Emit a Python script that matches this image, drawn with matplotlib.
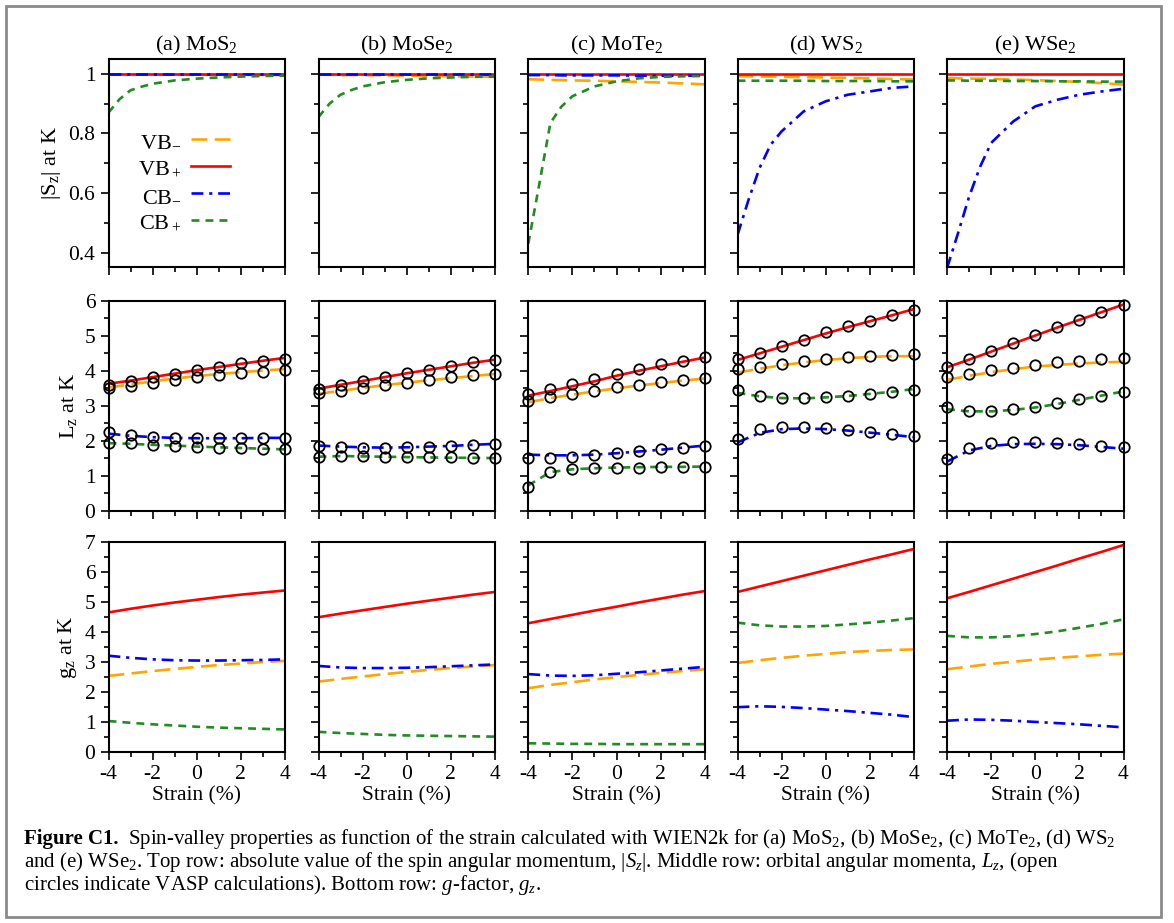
import matplotlib
matplotlib.use("Agg")
import matplotlib.pyplot as plt
from matplotlib.ticker import MultipleLocator
from matplotlib.patches import Rectangle

plt.rcParams.update({
    "font.family": ["Liberation Serif", "DejaVu Serif"],
    "mathtext.fontset": "custom",
    "mathtext.rm": "Liberation Serif",
    "mathtext.it": "Liberation Serif:italic",
    "mathtext.bf": "Liberation Serif:bold",
    "axes.unicode_minus": False,
    "axes.linewidth": 1.5,
    "xtick.direction": "out",
    "ytick.direction": "out",
})

# ---- data ----
strain = [-4, -3, -2, -1, 0, 1, 2, 3, 4]
strain_top = [-4, -3.5, -3, -2.5, -2, -1, 0, 1, 2, 3, 4]

materials = ["(a) MoS$_2$", "(b) MoSe$_2$", "(c) MoTe$_2$", "(d) WS$_2$", "(e) WSe$_2$"]
band_labels = ["VB$_\\mathrm{-}$", "VB$_+$", "CB$_\\mathrm{-}$", "CB$_+$"]

# |Sz| at K, order: VB-, VB+, CB-, CB+
sz_mos2 = [
    [0.998, 0.998, 0.998, 0.998, 0.998, 0.998, 0.997, 0.997, 0.997, 0.996, 0.996],
    [1.0, 1.0, 1.0, 1.0, 1.0, 1.0, 1.0, 1.0, 1.0, 1.0, 1.0],
    [0.999, 0.999, 0.999, 0.999, 0.999, 0.999, 0.999, 0.999, 0.999, 0.999, 0.999],
    [0.870, 0.915, 0.945, 0.957, 0.967, 0.978, 0.984, 0.988, 0.991, 0.993, 0.994],
]
sz_mose2 = [
    [0.997, 0.997, 0.996, 0.996, 0.996, 0.995, 0.994, 0.993, 0.992, 0.991, 0.990],
    [1.0, 1.0, 1.0, 1.0, 1.0, 1.0, 1.0, 1.0, 1.0, 1.0, 1.0],
    [0.999, 0.999, 0.999, 0.999, 0.999, 0.999, 0.999, 0.999, 0.999, 0.999, 0.999],
    [0.855, 0.900, 0.930, 0.946, 0.958, 0.972, 0.980, 0.985, 0.988, 0.990, 0.991],
]
sz_mote2 = [
    [0.982, 0.981, 0.980, 0.979, 0.978, 0.977, 0.975, 0.973, 0.971, 0.968, 0.965],
    [1.0, 1.0, 1.0, 1.0, 1.0, 1.0, 1.0, 1.0, 1.0, 1.0, 1.0],
    [0.996, 0.996, 0.996, 0.995, 0.995, 0.995, 0.995, 0.994, 0.994, 0.994, 0.994],
    [0.430, 0.630, 0.835, 0.890, 0.925, 0.958, 0.975, 0.985, 0.990, 0.992, 0.993],
]
sz_ws2 = [
    [0.992, 0.992, 0.991, 0.991, 0.990, 0.989, 0.988, 0.986, 0.985, 0.983, 0.981],
    [1.0, 1.0, 1.0, 1.0, 1.0, 1.0, 1.0, 1.0, 1.0, 1.0, 1.0],
    [0.459, 0.577, 0.684, 0.762, 0.807, 0.874, 0.908, 0.930, 0.941, 0.953, 0.958],
    [0.977, 0.977, 0.977, 0.977, 0.977, 0.977, 0.976, 0.976, 0.976, 0.975, 0.975],
]
sz_wse2 = [
    [0.986, 0.985, 0.984, 0.984, 0.983, 0.981, 0.979, 0.976, 0.973, 0.969, 0.964],
    [1.0, 1.0, 1.0, 1.0, 1.0, 1.0, 1.0, 1.0, 1.0, 1.0, 1.0],
    [0.347, 0.465, 0.587, 0.688, 0.768, 0.840, 0.891, 0.913, 0.930, 0.941, 0.950],
    [0.978, 0.978, 0.977, 0.977, 0.977, 0.976, 0.976, 0.975, 0.975, 0.974, 0.974],
]

# Lz at K (WIEN2k lines)
lz_mos2 = [
    [3.52, 3.61, 3.70, 3.78, 3.85, 3.91, 3.96, 4.01, 4.05],
    [3.63, 3.72, 3.82, 3.92, 4.02, 4.11, 4.20, 4.29, 4.37],
    [2.20, 2.14, 2.10, 2.08, 2.07, 2.07, 2.07, 2.08, 2.08],
    [1.93, 1.91, 1.88, 1.86, 1.83, 1.81, 1.79, 1.77, 1.75],
]
lz_mose2 = [
    [3.34, 3.43, 3.51, 3.59, 3.66, 3.73, 3.79, 3.85, 3.91],
    [3.49, 3.60, 3.71, 3.82, 3.93, 4.03, 4.13, 4.23, 4.32],
    [1.86, 1.83, 1.81, 1.80, 1.81, 1.83, 1.85, 1.88, 1.91],
    [1.54, 1.56, 1.55, 1.54, 1.53, 1.52, 1.51, 1.51, 1.50],
]
lz_mote2 = [
    [3.10, 3.22, 3.32, 3.41, 3.50, 3.58, 3.65, 3.72, 3.78],
    [3.29, 3.42, 3.56, 3.70, 3.86, 4.00, 4.13, 4.26, 4.38],
    [1.60, 1.58, 1.58, 1.60, 1.64, 1.69, 1.74, 1.80, 1.86],
    [0.72, 1.10, 1.18, 1.21, 1.23, 1.24, 1.25, 1.25, 1.26],
]
lz_ws2 = [
    [3.95, 4.06, 4.16, 4.24, 4.31, 4.36, 4.40, 4.42, 4.42],
    [4.31, 4.50, 4.69, 4.88, 5.07, 5.25, 5.42, 5.59, 5.77],
    [1.95, 2.22, 2.33, 2.35, 2.33, 2.29, 2.23, 2.17, 2.10],
    [3.37, 3.27, 3.22, 3.21, 3.24, 3.28, 3.34, 3.40, 3.48],
]
lz_wse2 = [
    [3.74, 3.86, 3.96, 4.05, 4.12, 4.17, 4.21, 4.24, 4.26],
    [4.10, 4.32, 4.55, 4.78, 5.01, 5.24, 5.46, 5.68, 5.90],
    [1.40, 1.72, 1.85, 1.90, 1.91, 1.90, 1.87, 1.82, 1.77],
    [2.90, 2.84, 2.84, 2.88, 2.95, 3.05, 3.17, 3.29, 3.41],
]

# Lz at K (VASP, open circles)
vasp_mos2 = [
    [3.51, 3.57, 3.66, 3.74, 3.81, 3.88, 3.93, 3.98, 4.03],
    [3.58, 3.71, 3.82, 3.92, 4.03, 4.12, 4.22, 4.27, 4.34],
    [2.24, 2.16, 2.11, 2.09, 2.07, 2.07, 2.07, 2.08, 2.09],
    [1.92, 1.93, 1.89, 1.85, 1.83, 1.80, 1.78, 1.76, 1.75],
]
vasp_mose2 = [
    [3.36, 3.42, 3.50, 3.58, 3.66, 3.74, 3.81, 3.87, 3.91],
    [3.47, 3.59, 3.71, 3.82, 3.93, 4.03, 4.14, 4.24, 4.31],
    [1.86, 1.83, 1.80, 1.80, 1.81, 1.83, 1.86, 1.88, 1.91],
    [1.53, 1.57, 1.56, 1.54, 1.53, 1.52, 1.52, 1.50, 1.50],
]
vasp_mote2 = [
    [3.15, 3.24, 3.33, 3.42, 3.53, 3.60, 3.67, 3.74, 3.79],
    [3.33, 3.48, 3.62, 3.76, 3.90, 4.05, 4.19, 4.29, 4.39],
    [1.50, 1.50, 1.54, 1.59, 1.64, 1.69, 1.75, 1.80, 1.86],
    [0.68, 1.09, 1.18, 1.21, 1.23, 1.23, 1.26, 1.26, 1.26],
]
vasp_ws2 = [
    [4.05, 4.12, 4.20, 4.28, 4.34, 4.39, 4.43, 4.46, 4.48],
    [4.35, 4.52, 4.71, 4.89, 5.10, 5.27, 5.44, 5.60, 5.75],
    [2.05, 2.33, 2.40, 2.40, 2.37, 2.31, 2.26, 2.20, 2.13],
    [3.45, 3.28, 3.22, 3.22, 3.24, 3.28, 3.35, 3.40, 3.45],
]
vasp_wse2 = [
    [3.82, 3.90, 4.01, 4.09, 4.16, 4.24, 4.29, 4.33, 4.36],
    [4.12, 4.34, 4.57, 4.81, 5.03, 5.25, 5.47, 5.68, 5.89],
    [1.48, 1.80, 1.93, 1.95, 1.95, 1.93, 1.90, 1.86, 1.81],
    [2.95, 2.86, 2.85, 2.90, 2.97, 3.07, 3.19, 3.28, 3.40],
]

# gz at K
gz_mos2 = [
    [2.54, 2.62, 2.70, 2.77, 2.84, 2.90, 2.95, 3.00, 3.04],
    [4.65, 4.77, 4.88, 4.98, 5.07, 5.16, 5.24, 5.31, 5.38],
    [3.21, 3.14, 3.09, 3.06, 3.05, 3.05, 3.06, 3.07, 3.09],
    [1.04, 0.98, 0.93, 0.89, 0.85, 0.82, 0.80, 0.78, 0.76],
]
gz_mose2 = [
    [2.35, 2.44, 2.52, 2.60, 2.67, 2.74, 2.80, 2.85, 2.90],
    [4.49, 4.61, 4.72, 4.83, 4.94, 5.04, 5.14, 5.24, 5.33],
    [2.87, 2.82, 2.80, 2.80, 2.81, 2.83, 2.86, 2.89, 2.92],
    [0.68, 0.64, 0.61, 0.58, 0.56, 0.55, 0.54, 0.53, 0.52],
]
gz_mote2 = [
    [2.13, 2.24, 2.33, 2.42, 2.50, 2.57, 2.64, 2.70, 2.76],
    [4.29, 4.43, 4.57, 4.71, 4.84, 4.98, 5.11, 5.24, 5.36],
    [2.60, 2.55, 2.54, 2.56, 2.61, 2.66, 2.72, 2.78, 2.84],
    [0.30, 0.29, 0.28, 0.28, 0.27, 0.27, 0.27, 0.27, 0.27],
]
gz_ws2 = [
    [2.97, 3.06, 3.14, 3.21, 3.27, 3.33, 3.37, 3.40, 3.42],
    [5.33, 5.51, 5.69, 5.87, 6.05, 6.23, 6.41, 6.58, 6.76],
    [1.50, 1.53, 1.51, 1.47, 1.42, 1.37, 1.31, 1.25, 1.17],
    [4.31, 4.22, 4.18, 4.18, 4.20, 4.25, 4.31, 4.38, 4.46],
]
gz_wse2 = [
    [2.76, 2.85, 2.94, 3.01, 3.08, 3.14, 3.19, 3.24, 3.28],
    [5.12, 5.33, 5.55, 5.77, 5.99, 6.21, 6.44, 6.66, 6.89],
    [1.05, 1.09, 1.08, 1.05, 1.01, 0.97, 0.93, 0.88, 0.83],
    [3.87, 3.82, 3.82, 3.86, 3.93, 4.02, 4.14, 4.27, 4.42],
]

sz_all = [sz_mos2, sz_mose2, sz_mote2, sz_ws2, sz_wse2]
lz_all = [lz_mos2, lz_mose2, lz_mote2, lz_ws2, lz_wse2]
vasp_all = [vasp_mos2, vasp_mose2, vasp_mote2, vasp_ws2, vasp_wse2]
gz_all = [gz_mos2, gz_mose2, gz_mote2, gz_ws2, gz_wse2]

# line styles per band: VB-, VB+, CB-, CB+
styles = [
    dict(color="#FFA500", dashes=(6.0, 2.8)),
    dict(color="#FF0000", linestyle="-"),
    dict(color="#0000FF", dashes=(4.5, 2.2, 1.2, 2.2)),
    dict(color="#228B22", dashes=(3.0, 2.3)),
]
LW = 1.9

# ---- layout in pixels ----
W, H = 1174, 923
lefts = [108.5, 318.5, 528.3, 737.5, 947.0]
ax_w = 176.5
rows = [(59, 267.4), (301, 510.5), (541.7, 752.3)]

fig = plt.figure(figsize=(W / 100, H / 100), dpi=100)


def make_ax(col, row):
    top, bot = rows[row]
    ax = fig.add_axes([lefts[col] / W, 1 - bot / H, ax_w / W, (bot - top) / H])
    ax.set_xlim(-4, 4)
    ax.xaxis.set_major_locator(MultipleLocator(2))
    ax.xaxis.set_minor_locator(MultipleLocator(1))
    ax.tick_params(which="both", top=False, right=False, labelsize=15.5, width=1.2)
    ax.tick_params(which="major", length=6)
    ax.tick_params(which="minor", length=3.5)
    if col > 0:
        ax.tick_params(labelleft=False)
    if row < 2:
        ax.tick_params(labelbottom=False)
    else:
        ax.set_xlabel("Strain (%)", fontsize=15.5, labelpad=1)
    return ax


for i in range(5):
    # top row: |Sz|
    ax = make_ax(i, 0)
    for k in range(4):
        ax.plot(strain_top, sz_all[i][k], lw=LW, label=band_labels[k], **styles[k])
    ax.set_ylim(0.35, 1.05)
    ax.yaxis.set_minor_locator(MultipleLocator(0.1))
    ax.set_yticks([0.4, 0.6, 0.8, 1.0])
    ax.set_yticklabels(["0.4", "0.6", "0.8", "1"])
    ax.set_title(materials[i], fontsize=16, pad=6)
    if i == 0:
        ax.set_ylabel("|S$_\\mathrm{z}$| at K", fontsize=16)
        ax.legend(loc="upper right", bbox_to_anchor=(0.69, 0.655), frameon=False,
                  markerfirst=False, fontsize=16, handlelength=1.75,
                  handletextpad=0.45, labelspacing=0.3, borderpad=0,
                  borderaxespad=0)

    # middle row: Lz
    ax = make_ax(i, 1)
    for k in range(4):
        ax.plot(strain, lz_all[i][k], lw=LW, **styles[k])
    for k in range(4):
        ax.plot(strain, vasp_all[i][k], "o", mfc="none", mec="k", ms=7.5,
                mew=1.3, zorder=5, clip_on=False)
    ax.set_ylim(0, 6)
    ax.yaxis.set_major_locator(MultipleLocator(1))
    ax.yaxis.set_minor_locator(MultipleLocator(0.5))
    if i == 0:
        ax.set_ylabel("L$_\\mathrm{z}$ at K", fontsize=16)

    # bottom row: gz
    ax = make_ax(i, 2)
    for k in range(4):
        ax.plot(strain, gz_all[i][k], lw=LW, **styles[k])
    ax.set_ylim(0, 7)
    ax.yaxis.set_major_locator(MultipleLocator(1))
    ax.yaxis.set_minor_locator(MultipleLocator(0.5))
    if i == 0:
        ax.set_ylabel("g$_\\mathrm{z}$ at K", fontsize=16)

# ---- caption ----
cap_lines = [
    "Spin-valley properties as function of the strain calculated with WIEN2k for "
    "(a) MoS$_2$, (b) MoSe$_2$, (c) MoTe$_2$, (d) WS$_2$",
    "and (e) WSe$_2$. Top row: absolute value of the spin angular momentum, $|S_z|$. "
    "Middle row: orbital angular momenta, $L_z$, (open",
    "circles indicate VASP calculations). Bottom row: $g$-factor, $g_z$.",
]
cap_y = [839, 862, 885]
CAP_FS = 15
x0 = 24 / W
bold = fig.text(x0, 1 - cap_y[0] / H, "Figure C1.", fontsize=CAP_FS,
                fontweight="bold", va="center", ha="left")
fig.canvas.draw()
bb = bold.get_window_extent(fig.canvas.get_renderer())
fig.text((bb.x1 + 9) / W, 1 - cap_y[0] / H, cap_lines[0], fontsize=CAP_FS,
         va="center", ha="left")
for line, y in zip(cap_lines[1:], cap_y[1:]):
    fig.text(x0, 1 - y / H, line, fontsize=CAP_FS, va="center", ha="left")

# frame around the whole figure
fig.patches.append(Rectangle((6 / W, 1 - 917 / H), (1161 - 6) / W, (917 - 6) / H,
                             transform=fig.transFigure, fill=False,
                             edgecolor="#8a8a8a", lw=2))

fig.savefig("out.png", dpi=100)
